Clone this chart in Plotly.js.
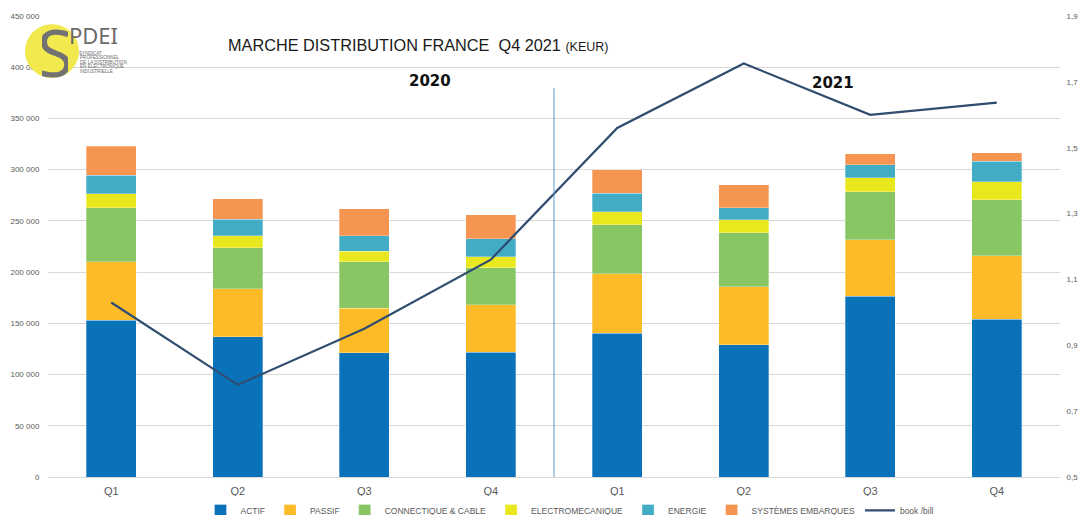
<!DOCTYPE html>
<html>
<head>
<meta charset="utf-8">
<script src="https://cdn.plot.ly/plotly-3.0.1.min.js"></script>
<style>html,body{margin:0;padding:0;background:#fff;}#chart{width:1079px;height:515px;}</style>
</head>
<body>
<div id="chart"></div>
<script>
// ---- DATA ----
var categories = ["2020 Q1","2020 Q2","2020 Q3","2020 Q4","2021 Q1","2021 Q2","2021 Q3","2021 Q4"];
var tickLabels = ["Q1","Q2","Q3","Q4","Q1","Q2","Q3","Q4"];
var actif       = [153000, 137000, 121300, 122000, 140500, 129100, 176200, 154200];
var passif      = [57000, 46700, 43600, 46100, 57800, 56600, 55600, 62000];
var connectique = [53000, 40300, 45100, 36400, 47800, 52600, 46800, 54300];
var electromeca = [13500, 11400, 10500, 10700, 13000, 13000, 13600, 17800];
var energie     = [18000, 16200, 15200, 17300, 17900, 11700, 12400, 19900];
var systemes    = [28500, 20200, 26000, 23400, 22700, 22100, 11000, 8400];
var bookBill    = [1.03, 0.78, 0.95, 1.16, 1.56, 1.756, 1.60, 1.637];
var seriesNames = ["ACTIF","PASSIF","CONNECTIQUE & CABLE","ELECTROMECANIQUE","ENERGIE","SYSTÈMES EMBARQUES","book /bill"];
var yearLabels  = ["2020","2021"];

// ---- STYLE ----
var colors = ["#0a72b9","#fcbb27","#88c663","#e9e81f","#43acc5","#f69552"];
var lineColor = "#2f4d6f";
var FONT = "Liberation Sans, Arial, sans-serif";

var L = 48, R = 1060, T = 15.8, B = 477.5;
function px(x){ return (x - L) / (R - L); }
function py(y){ return (B - y) / (B - T); }

var barSeries = [actif, passif, connectique, electromeca, energie, systemes];
var traces = barSeries.map(function(vals, i){
  return {
    type: "bar", name: seriesNames[i], x: categories, y: vals,
    marker: {color: colors[i], line: {color: "rgba(255,255,255,0.6)", width: 0.5}},
    hoverinfo: "x+y+name"
  };
});
traces.push({
  type: "scatter", mode: "lines", name: seriesNames[6], x: categories, y: bookBill,
  yaxis: "y2", line: {color: lineColor, width: 2.2}
});

var smallLines = ["SYNDICAT","PROFESSIONNEL","DE LA DISTRIBUTION","EN ELECTRONIQUE","INDUSTRIELLE"];
var smallY = [53, 57.5, 62, 66.5, 71];
var annotations = [
  {xref:"paper", yref:"paper", x:px(430), y:py(81), xanchor:"center", yanchor:"middle",
   text:"<b>"+yearLabels[0]+"</b>", showarrow:false,
   font:{family:"DejaVu Sans, sans-serif", size:15, color:"#111"}},
  {xref:"paper", yref:"paper", x:px(833), y:py(83), xanchor:"center", yanchor:"middle",
   text:"<b>"+yearLabels[1]+"</b>", showarrow:false,
   font:{family:"DejaVu Sans, sans-serif", size:15, color:"#111"}},
  {xref:"paper", yref:"paper", x:px(55), y:py(51), xanchor:"center", yanchor:"middle",
   text:"S", showarrow:false, width: 26, borderpad: 0,
   font:{family:"Noto Sans, sans-serif", size:66, color:"#727272"}},
  {xref:"paper", yref:"paper", x:px(93), y:py(34.5), xanchor:"center", yanchor:"middle",
   text:"PDEI", showarrow:false, borderpad: 0,
   font:{family:"Noto Sans, sans-serif", size:22, color:"#6a6a6a"}}
];
smallLines.forEach(function(t, i){
  annotations.push({xref:"paper", yref:"paper", x:px(i===0?77:78), y:py(smallY[i]), text:t, showarrow:false,
    xanchor:"left", yanchor:"middle", font:{family:FONT, size:4.6, color:"#6a6a6a"}});
});

var layout = {
  width: 1079, height: 515,
  margin: {l: L, r: 1079 - R, t: T, b: 515 - B, pad: 0, autoexpand: false},
  paper_bgcolor: "#fff", plot_bgcolor: "#fff",
  barmode: "stack", bargap: 0.605,
  separators: ", ",
  showlegend: true,
  title: {
    text: "MARCHE DISTRIBUTION FRANCE  Q4 2021 <span style='font-size:12.5px'>(KEUR)</span>",
    x: 228/1079, xanchor: "left", xref: "container",
    y: 1 - 45/515, yanchor: "middle", yref: "container",
    font: {family: FONT, size: 16.3, color: "#1a1a1a"}
  },
  xaxis: {
    type: "category", tickvals: categories, ticktext: tickLabels,
    tickfont: {family: FONT, size: 11, color: "#595959"},
    showline: true, linecolor: "#d9d9d9", linewidth: 1, showgrid: false,
    ticks: "outside", ticklen: 4, tickcolor: "rgba(0,0,0,0)", fixedrange: true
  },
  yaxis: {
    range: [0, 450000], dtick: 50000, tickformat: ",d",
    tickfont: {family: FONT, size: 8, color: "#595959"},
    gridcolor: "#d9d9d9", gridwidth: 1, zeroline: false,
    ticks: "outside", ticklen: 6, tickcolor: "rgba(0,0,0,0)", fixedrange: true
  },
  yaxis2: {
    overlaying: "y", side: "right", range: [0.5, 1.9], dtick: 0.2, tick0: 0.5, tickformat: ".1f",
    tickfont: {family: FONT, size: 8, color: "#595959"},
    showgrid: false, zeroline: false,
    ticks: "outside", ticklen: 4, tickcolor: "rgba(0,0,0,0)", fixedrange: true
  },
  legend: {
    orientation: "h", x: px(570), xanchor: "center", y: -0.0726, yanchor: "middle",
    font: {family: FONT, size: 8.5, color: "#595959"},
    traceorder: "normal", itemwidth: 30, tracegroupgap: 0
  },
  shapes: [
    {type:"line", xref:"x", yref:"paper", x0:3.5, x1:3.5, y0:0, y1:py(88),
     line:{color:"#5b9bd5", width:1}},
    {type:"circle", xref:"paper", yref:"paper", x0:px(25), x1:px(79), y0:py(78), y1:py(24),
     fillcolor:"#f2e94e", line:{width:0}, layer:"above"}
  ],
  annotations: annotations
};

Plotly.newPlot("chart", traces, layout, {displayModeBar: false, staticPlot: true});
</script>
</body>
</html>
